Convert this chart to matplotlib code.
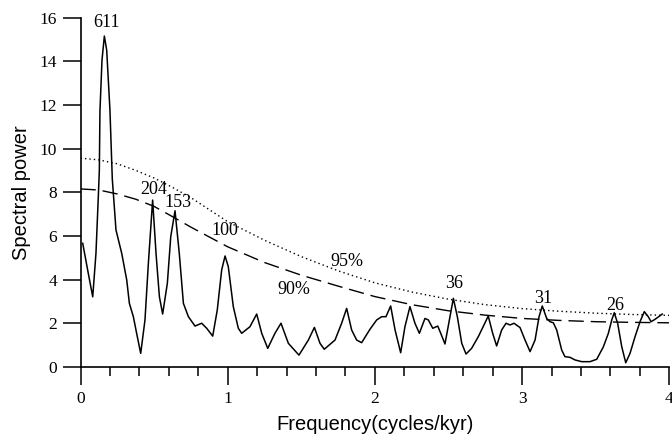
import numpy as np
import matplotlib
matplotlib.use("Agg")
from matplotlib import pyplot as plt
from matplotlib.ticker import MultipleLocator

# spectrum
freq = [0.015, 0.053, 0.083, 0.105, 0.121, 0.128, 0.132, 0.146, 0.162, 0.178,
        0.2, 0.216, 0.228, 0.241, 0.28, 0.314, 0.332, 0.359, 0.386, 0.409,
        0.438, 0.461, 0.49, 0.513, 0.536, 0.558, 0.59, 0.613, 0.642, 0.671,
        0.699, 0.733, 0.778, 0.823, 0.857, 0.898, 0.929, 0.959, 0.982, 1.004,
        1.038, 1.072, 1.095, 1.151, 1.197, 1.231, 1.272, 1.321, 1.362, 1.412,
        1.484, 1.548, 1.589, 1.627, 1.656, 1.729, 1.774, 1.808, 1.842, 1.876,
        1.91, 1.967, 2.012, 2.046, 2.075, 2.107, 2.137, 2.175, 2.204, 2.238,
        2.272, 2.302, 2.34, 2.363, 2.393, 2.427, 2.447, 2.476, 2.51, 2.533,
        2.56, 2.59, 2.619, 2.657, 2.702, 2.748, 2.77, 2.8, 2.827, 2.861,
        2.891, 2.918, 2.945, 2.986, 3.02, 3.054, 3.088, 3.115, 3.137, 3.167,
        3.19, 3.212, 3.235, 3.269, 3.291, 3.325, 3.359, 3.405, 3.461, 3.507,
        3.552, 3.586, 3.609, 3.626, 3.649, 3.677, 3.704, 3.733, 3.767, 3.801,
        3.83, 3.857, 3.876, 3.903, 3.952]
power = [5.66, 4.28, 3.21, 5.2, 7.8, 9.0, 11.7, 14.05, 15.15, 14.5,
         11.76, 8.6, 7.49, 6.27, 5.2, 3.98, 2.91, 2.3, 1.38, 0.62,
         2.15, 4.74, 7.64, 5.2, 3.21, 2.42, 3.83, 5.96, 7.15, 5.2,
         2.91, 2.3, 1.87, 2.0, 1.77, 1.41, 2.6, 4.44, 5.08, 4.59,
         2.76, 1.77, 1.54, 1.84, 2.42, 1.54, 0.85, 1.54, 2.0, 1.08,
         0.54, 1.23, 1.81, 1.08, 0.81, 1.23, 2.0, 2.68, 1.69, 1.23,
         1.11, 1.73, 2.15, 2.3, 2.3, 2.79, 1.69, 0.65, 1.84, 2.76,
         2.0, 1.54, 2.22, 2.15, 1.77, 1.87, 1.54, 1.05, 2.3, 3.14,
         2.3, 1.08, 0.59, 0.85, 1.38, 2.02, 2.33, 1.54, 0.96, 1.69,
         2.0, 1.92, 2.0, 1.8, 1.23, 0.7, 1.23, 2.3, 2.79, 2.22,
         2.07, 2.02, 1.69, 0.77, 0.47, 0.44, 0.32, 0.24, 0.24, 0.35,
         0.92, 1.54, 2.15, 2.48, 2.0, 0.92, 0.19, 0.62, 1.38, 2.07,
         2.53, 2.3, 2.07, 2.18, 2.42]

# confidence levels
conf_freq = [0.0, 0.125, 0.25, 0.375, 0.5, 0.625, 0.75, 0.875, 1.0, 1.25,
             1.5, 1.75, 2.0, 2.25, 2.5, 2.75, 3.0, 3.25, 3.5, 3.75, 4.0]
conf95 = [9.56, 9.48, 9.3, 9.0, 8.65, 8.22, 7.75, 7.2, 6.65, 5.8,
          5.05, 4.4, 3.85, 3.43, 3.1, 2.85, 2.67, 2.55, 2.46, 2.4, 2.36]
conf90 = [8.15, 8.1, 7.92, 7.68, 7.35, 6.88, 6.4, 5.95, 5.5, 4.78,
          4.2, 3.7, 3.22, 2.85, 2.57, 2.37, 2.22, 2.13, 2.07, 2.04, 2.02]

# period labels (kyr) on peaks
peak_labels = ["611", "204", "153", "100", "36", "31", "26"]
peak_x = [0.18, 0.494, 0.664, 0.98, 2.537, 3.144, 3.631]
peak_y = [15.75, 8.13, 7.52, 6.24, 3.8, 3.14, 2.79]

SERIF = "Liberation Serif"
SANS = "Liberation Sans"

fig = plt.figure(figsize=(6.72, 4.41), dpi=100)
ax = fig.add_axes([0.1198, 0.168, 0.8762, 0.7923])

ax.plot(freq, power, color="black", lw=1.1, solid_joinstyle="round")
ax.plot(conf_freq, conf95, color="black", lw=1.0, ls=(0, (1, 2.2)))
ax.plot(conf_freq, conf90, color="black", lw=1.0, ls=(0, (11, 5)))

for lab, x, y in zip(peak_labels, peak_x, peak_y):
    ax.text(x, y, lab, ha="center", va="center", fontsize=13, family=SERIF)
ax.text(1.808, 4.82, "95%", ha="center", va="center", fontsize=13, family=SERIF)
ax.text(1.446, 3.55, "90%", ha="center", va="center", fontsize=13, family=SERIF)

ax.set_xlim(0, 4)
ax.set_ylim(0, 16)
ax.xaxis.set_major_locator(MultipleLocator(1))
ax.xaxis.set_minor_locator(MultipleLocator(0.2))
ax.yaxis.set_major_locator(MultipleLocator(2))

for side in ["top", "right"]:
    ax.spines[side].set_visible(False)
for side in ["left", "bottom"]:
    ax.spines[side].set_linewidth(1.2)

ax.tick_params(axis="both", which="major", length=13, width=1.1, direction="out",
               labelsize=12.5, pad=4)
ax.tick_params(axis="x", which="minor", length=6.5, width=1.1, direction="out")
for lab in ax.get_xticklabels() + ax.get_yticklabels():
    lab.set_family(SERIF)

ax.set_xlabel("Frequency(cycles/kyr)", fontsize=14.5, family=SANS, labelpad=6)
ax.set_ylabel("Spectral power", fontsize=14.5, family=SANS, labelpad=6)

fig.savefig("out.png", dpi=100)
